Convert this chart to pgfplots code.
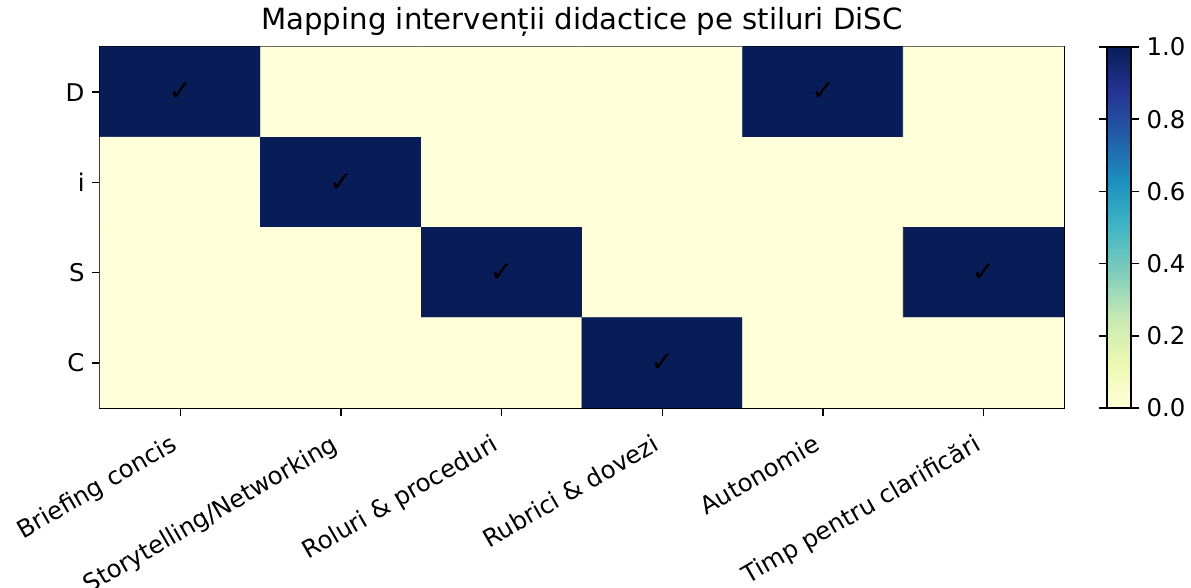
\documentclass[border=0pt]{standalone}
\usepackage{pgfplots}
\pgfplotsset{compat=1.18}
\usepackage{fontspec}
\setmainfont{DejaVu Sans}
\begin{document}
\begin{tikzpicture}
\begin{axis}[
  at={(0,0)}, anchor=south west,
  scale only axis, width=482pt, height=180.5pt,
  xmin=-0.5, xmax=5.5, ymin=-0.5, ymax=3.5, y dir=reverse,
  xtick={0,1,2,3,4,5},
  xticklabels={Briefing concis, Storytelling/Networking, Roluri \& proceduri, Rubrici \& dovezi, Autonomie, Timp pentru clarificări},
  ytick={0,1,2,3}, yticklabels={D,i,S,C},
  tick align=outside, xtick pos=bottom, ytick pos=left, major tick length=4.2pt,
  tick style={black, line width=0.8pt},
  axis line style={line width=0.8pt},
  xticklabel style={rotate=30, anchor=north east, xshift=-5.5pt, yshift=-1pt, font=\fontsize{12.2}{14}\selectfont, text=black},
  yticklabel style={font=\fontsize{12.2}{14}\selectfont, text=black},
  colormap={ylgnbu}{rgb255=(255,255,217) rgb255=(237,248,177) rgb255=(199,233,180) rgb255=(127,205,187) rgb255=(65,182,196) rgb255=(29,145,192) rgb255=(34,94,168) rgb255=(37,52,148) rgb255=(8,29,88)},
  point meta min=0, point meta max=1,
  colorbar right,
  colorbar style={
    width=12pt, at={(parent axis.north east)}, anchor=north west, xshift=13pt,
    ytick={0,0.2,0.4,0.6,0.8,1},
    major tick length=4.2pt, tick align=outside,
    tick style={black, line width=0.8pt},
    axis line style={line width=0.8pt},
    yticklabel style={/pgf/number format/.cd, fixed, fixed zerofill, precision=1, assume math mode=true, /tikz/.cd, font=\fontsize{12.2}{14}\selectfont, text=black},
  },
  title={Mapping intervenții didactice pe stiluri DiSC},
  title style={font=\fontsize{14.6}{16}\selectfont, text=black, yshift=-4.5pt},
]
\addplot[matrix plot*, mesh/cols=6, point meta=explicit] table[meta=c] {
x y c
0 0 1
1 0 0
2 0 0
3 0 0
4 0 1
5 0 0
0 1 0
1 1 1
2 1 0
3 1 0
4 1 0
5 1 0
0 2 0
1 2 0
2 2 1
3 2 0
4 2 0
5 2 1
0 3 0
1 3 0
2 3 0
3 3 1
4 3 0
5 3 0
};
\addplot[draw=none, mark=none, nodes near coords={✓}, nodes near coords align=center,
  every node near coord/.append style={anchor=center, text=black, font=\fontsize{14}{14}\selectfont}]
  coordinates {(0,0) (4,0) (1,1) (2,2) (5,2) (3,3)};
\end{axis}
\pgfresetboundingbox
\path[use as bounding box] (-50pt,-90pt) rectangle (545.5pt,204pt);
\end{tikzpicture}
\end{document}
